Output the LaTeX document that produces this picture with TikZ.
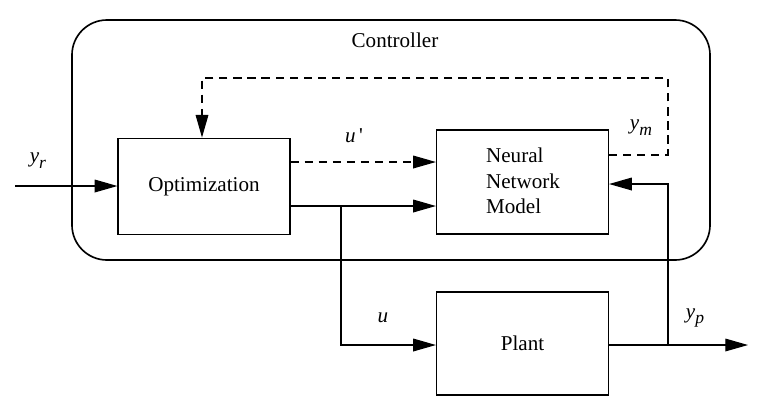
\documentclass[tikz,border=0pt]{standalone}
\usepackage{fontspec}
\setmainfont{Liberation Serif}
\usetikzlibrary{arrows.meta}
\newcommand{\sigsub}[2]{\textit{#1}\raisebox{-5pt}{\fontsize{15}{16}\selectfont\textit{#2}}}

\begin{document}
\begin{tikzpicture}[
    x=0.03cm, y=-0.03cm,
    block/.style={draw, rectangle, line width=1pt, minimum width=5.16cm, minimum height=2.9cm},
    lbl/.style={font=\fontsize{18}{21}\selectfont},
    sig/.style={line width=1pt},
    >={Triangle[length=0.68cm, width=0.38cm]}
]
    \useasboundingbox (0,0) rectangle (761,407);

    % Controller frame
    \node[draw, line width=1.4pt, rounded corners=1.05cm, minimum width=19.14cm, minimum height=7.2cm] (ctrl) at (391,140) {};
    \node[lbl] (ctrltext) at (395,40) {Controller};

    % Blocks
    \node[block, minimum width=5.16cm] (opt) at (204,186.5) {};
    \node[lbl] at (opt) {Optimization};
    \node[block, minimum height=3.12cm] (nn) at (522.5,182) {};
    \node[lbl, align=left, anchor=west] at (482,181) {Neural\\[1pt]Network\\[1pt]Model};
    \node[block, minimum height=3.09cm] (plant) at (522.5,343.5) {};
    \node[lbl] at (plant) {Plant};

    % Helper coordinates
    \coordinate (yrin) at (15,186);
    \coordinate (ubranch) at (341,206);
    \coordinate (ypbranch) at (668,345);
    \coordinate (ypout) at (748,345);

    % Input
    \draw[sig, ->] (yrin) -- (opt.west |- yrin);
    \node[lbl] at (38,161) {\sigsub{y}{r}};

    % Model output feedback (dashed)
    \draw[sig, dashed, dash pattern=on 7pt off 5pt, ->] (nn.east |- 0,155) -- (668,155) -- (668,78) -- (202,78) -- (opt.north -| 202,0);
    \node[lbl] at (641,128) {\sigsub{y}{m}};

    % u' (dashed)
    \draw[sig, dashed, dash pattern=on 7pt off 5pt, ->] (opt.east |- 0,162) -- (nn.west |- 0,162);
    \node[lbl] at (354,136) {\textit{u}\,\textquotesingle};

    % u
    \draw[sig, ->] (opt.east |- ubranch) -- (nn.west |- ubranch);
    \draw[sig, ->] (ubranch) -- (341,345) -- (plant.west |- 0,345);
    \node[lbl] at (383,318) {\textit{u}};

    % Plant output
    \draw[sig, ->] (plant.east |- ypout) -- (ypout);
    \draw[sig, ->] (ypbranch) -- (668,184) -- (nn.east |- 0,184);
    \node[lbl] at (695,318) {\sigsub{y}{p}};
\end{tikzpicture}
\end{document}
